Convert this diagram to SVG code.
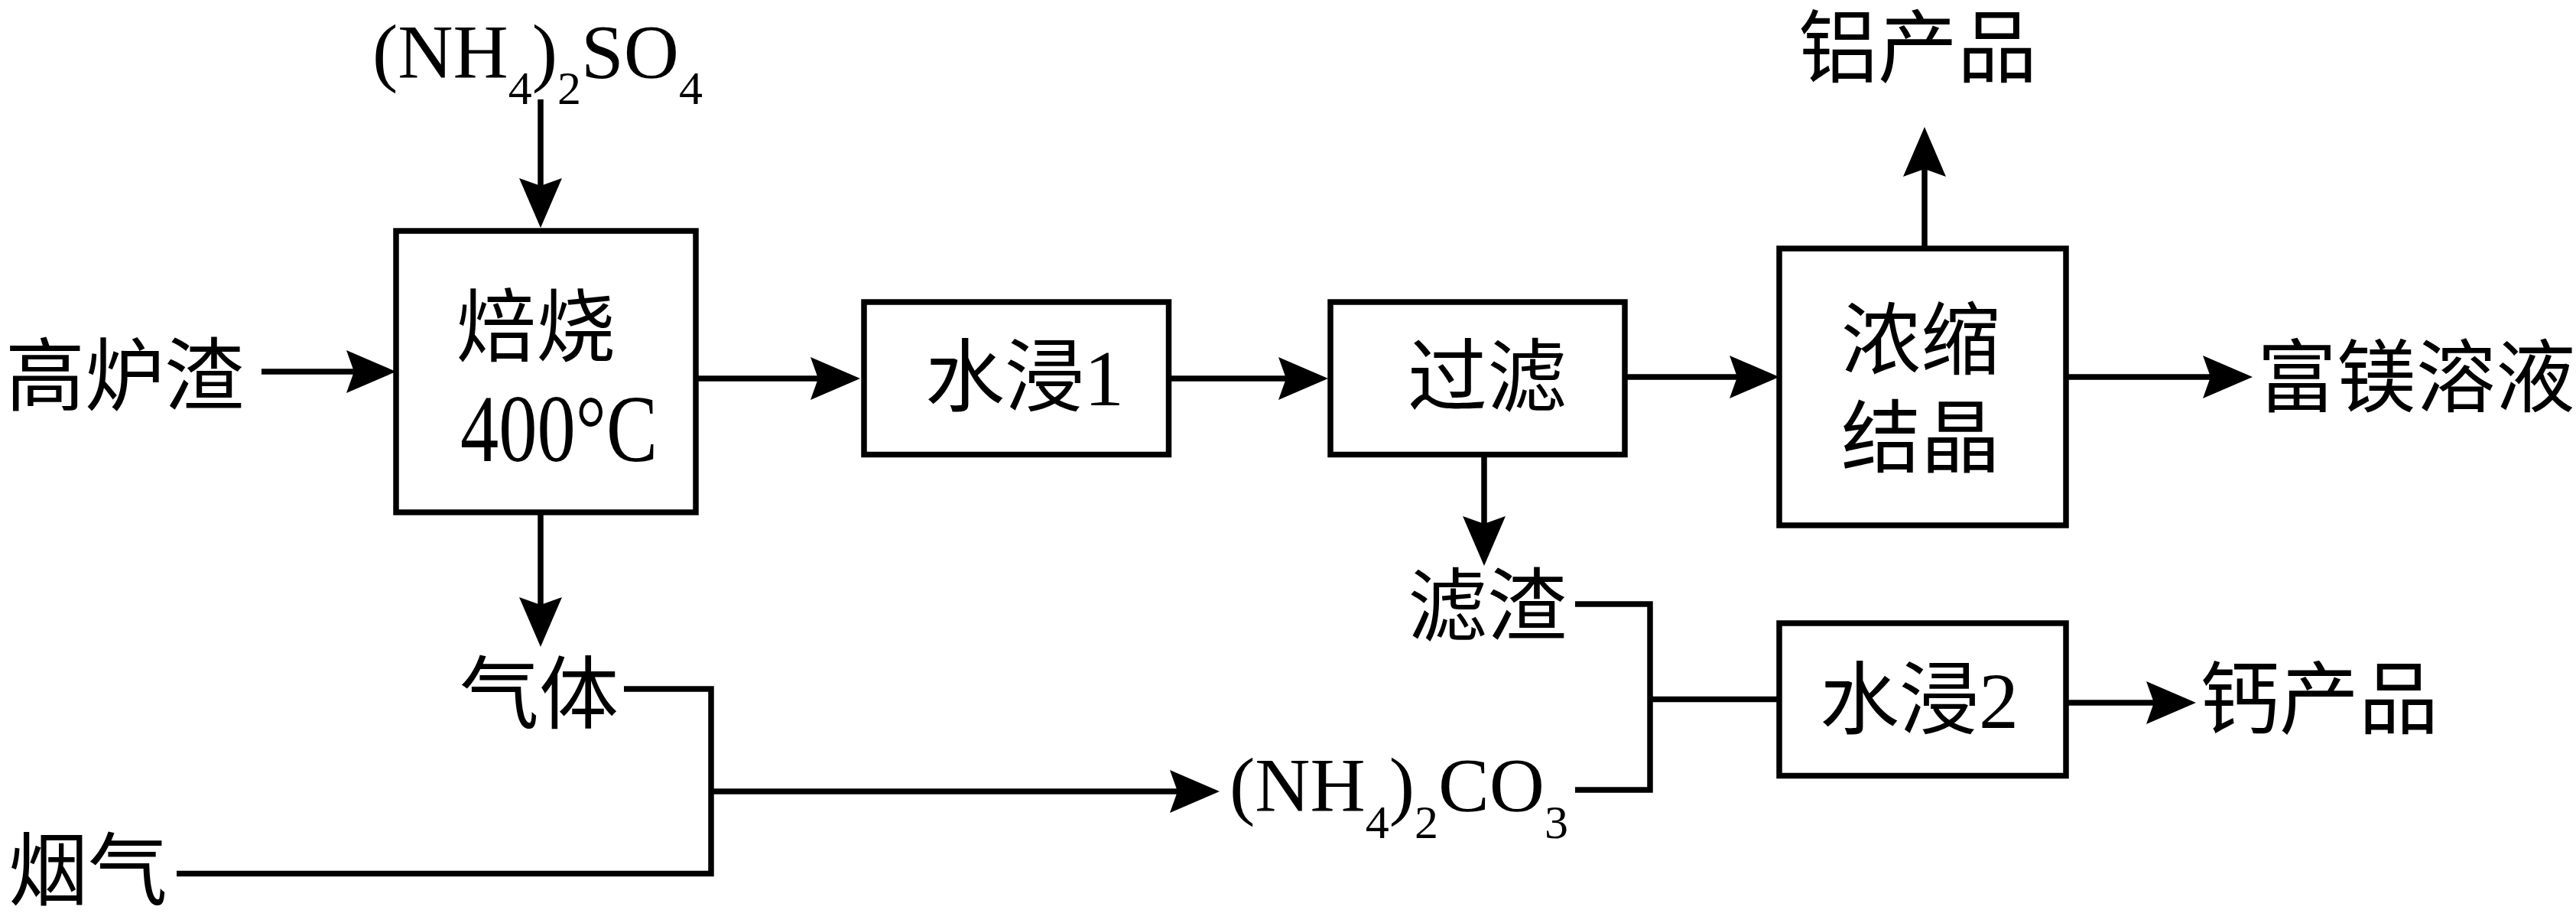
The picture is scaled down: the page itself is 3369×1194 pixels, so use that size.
<svg xmlns="http://www.w3.org/2000/svg" width="3369" height="1194" viewBox="0 0 3369 1194">
<style>
.box{fill:none;stroke:#000;stroke-width:7.5}
.ln{fill:none;stroke:#000;stroke-width:7.5}
.arr{marker-end:url(#ah)}
.t{font-family:"Liberation Serif","Noto Sans CJK SC",serif;font-size:104px;fill:#000;text-anchor:middle}
.f{font-family:"Liberation Serif",serif;font-size:100px;fill:#000}
.s{font-size:62px}
</style>
<defs>
<marker id="ah" viewBox="-10 -28 65 56" markerWidth="65" markerHeight="56" refX="0" refY="0" orient="auto" markerUnits="userSpaceOnUse">
<path d="M55,0 L-10,-28 L0,0 L-10,28 Z" fill="#000"/>
</marker>
</defs>
<rect width="3369" height="1194" fill="#fff"/>

<g id="connectors">
<path class="ln arr" d="M707,130 V243"/>
<path class="ln arr" d="M342,486 H463"/>
<path class="ln arr" d="M910,495 H1070"/>
<path class="ln arr" d="M1532,495 H1682"/>
<path class="ln arr" d="M2125,493 H2272"/>
<path class="ln arr" d="M2702,493 H2891"/>
<path class="ln arr" d="M2517,325 V221"/>
<path class="ln arr" d="M707,670 V791"/>
<path class="ln arr" d="M1941,594 V685"/>
<path class="ln" d="M816,901 H930 V1142.5 H231"/>
<path class="ln arr" d="M930,1035 H1540"/>
<path class="ln" d="M2060,790 H2158 V1033 H2060"/>
<path class="ln" d="M2158,914.5 H2327"/>
<path class="ln arr" d="M2702,919 H2817"/>
</g>

<g id="n-nh4so4"><text class="f" x="487" y="101">(NH<tspan class="s" dy="35">4</tspan><tspan dy="-35">)</tspan><tspan class="s" dy="35">2</tspan><tspan dy="-35">SO</tspan><tspan class="s" dy="35">4</tspan></text></g>
<g id="n-gaoluzha"><text class="t" x="163" y="529">高炉渣</text></g>
<g id="n-beishao"><rect class="box" x="518" y="302" width="392" height="368"/><text class="t" x="701" y="465">焙烧</text><text class="t" transform="translate(731,603) scale(0.81,1)" x="0" y="0" style="font-size:124px">400°C</text></g>
<g id="n-shuijin1"><rect class="box" x="1130" y="395" width="398.5" height="199.5"/><text class="t" x="1340" y="530">水浸1</text></g>
<g id="n-guolv"><rect class="box" x="1740" y="395" width="385" height="199.5"/><text class="t" x="1945" y="530">过滤</text></g>
<g id="n-nongsuo"><rect class="box" x="2327" y="325" width="375" height="362"/><text class="t" x="2512" y="482">浓缩</text><text class="t" x="2512" y="610">结晶</text></g>
<g id="n-lv"><text class="t" x="2508" y="100">铝产品</text></g>
<g id="n-fumei"><text class="t" x="3160" y="531">富镁溶液</text></g>
<g id="n-qiti"><text class="t" x="705" y="945">气体</text></g>
<g id="n-yanqi"><text class="t" x="115" y="1176">烟气</text></g>
<g id="n-lvzha"><text class="t" x="1945" y="830">滤渣</text></g>
<g id="n-nh4co3"><text class="f" x="1608" y="1060">(NH<tspan class="s" dy="36">4</tspan><tspan dy="-36">)</tspan><tspan class="s" dy="36">2</tspan><tspan dy="-36">CO</tspan><tspan class="s" dy="36">3</tspan></text></g>
<g id="n-shuijin2"><rect class="box" x="2327" y="815" width="375" height="199.5"/><text class="t" x="2510" y="952">水浸2</text></g>
<g id="n-gai"><text class="t" x="3033" y="952">钙产品</text></g>
</svg>
